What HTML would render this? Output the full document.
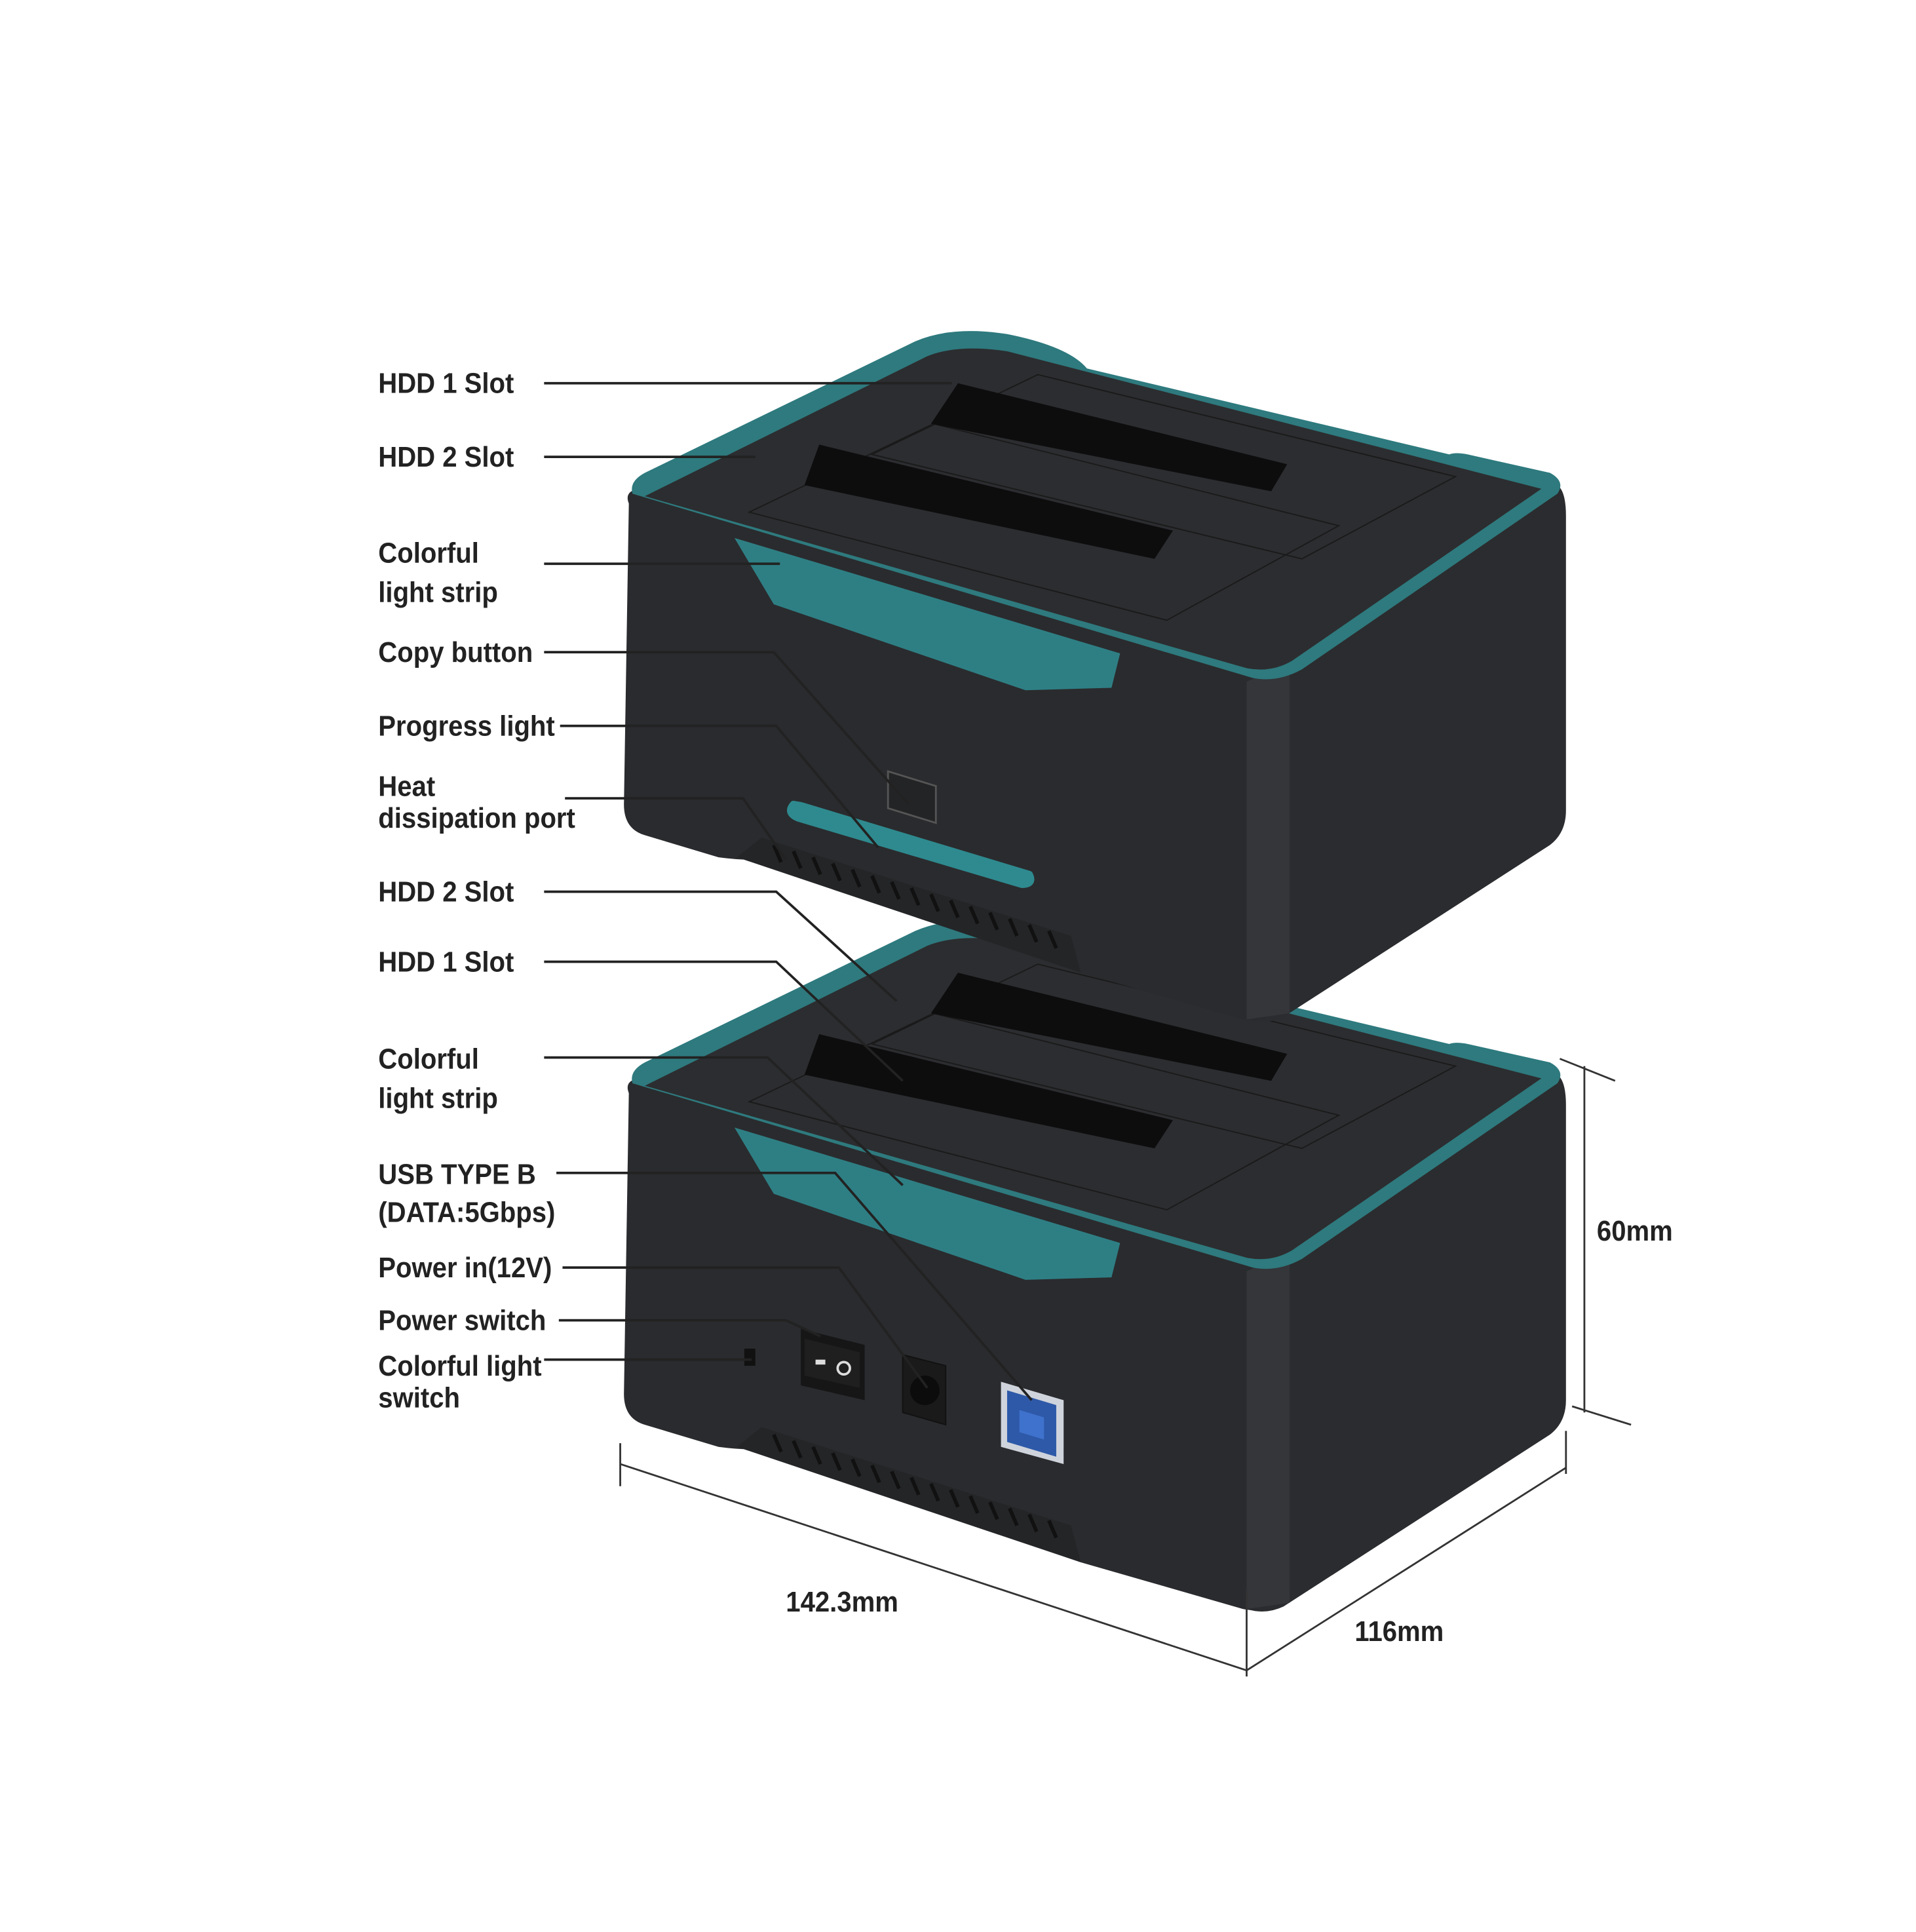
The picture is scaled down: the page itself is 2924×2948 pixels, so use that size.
<!DOCTYPE html>
<html><head><meta charset="utf-8"><style>
html,body{margin:0;padding:0;background:#fff;}
svg{display:block;}
text{font-family:"Liberation Sans",sans-serif;font-weight:bold;font-size:23px;fill:#222;}
</style></head><body>
<svg width="2924" height="2948" viewBox="0 0 1560 1573" preserveAspectRatio="none" xmlns="http://www.w3.org/2000/svg">
<defs>
<g id="dev">
  <path d="M1030,540 L1268,395 Q1275,400 1275,420 L1275,660 Q1275,678 1262,688 L1045,828 Q1030,835 1015,830 Z" fill="#2b2c2f"/>
  <path d="M512,410 Q508,400 520,398 L1040,548 L1040,820 Q1030,834 1012,830 L880,792 L612,700 Q600,700 585,698 L525,680 Q508,675 508,655 Z" fill="#2a2b2e"/>
  <path d="M1015,555 L1050,540 L1050,825 L1015,830 Z" fill="#34363a"/>
  <path d="M600,698 L620,682 L872,762 L880,792 Z" fill="#242527"/>
  <g stroke="#111" stroke-width="3">
    <path d="M630,688 l6,14 M646,693 l6,14 M662,698 l6,14 M678,703 l6,14 M694,708 l6,14 M710,713 l6,14 M726,718 l6,14 M742,723 l6,14 M758,728 l6,14 M774,733 l6,14 M790,738 l6,14 M806,743 l6,14 M822,748 l6,14 M838,753 l6,14 M854,758 l6,14"/>
  </g>
  <path d="M515,402 Q512,392 525,385 L745,278 Q775,265 820,272 Q870,282 885,300 L1180,370 Q1185,368 1195,370 L1262,385 Q1275,392 1268,402 L1060,545 Q1040,556 1020,552 Z" fill="#2e7a7e"/>
  <path d="M525,404 L755,290 Q780,280 820,286 L1255,398 L1052,538 Q1035,548 1015,544 Z" fill="#2c2d30"/>
  <path d="M610,417 L760,345 L1090,428 L950,505 Z" fill="none" stroke="#1a1a1a" stroke-width="1"/>
  <path d="M710,370 L845,305 L1185,388 L1060,455 Z" fill="none" stroke="#1a1a1a" stroke-width="1"/>
  <path d="M655,395 L667,362 L955,432 L940,455 Z" fill="#0d0d0e"/>
  <path d="M758,345 L780,312 L1048,378 L1035,400 Z" fill="#0d0d0e"/>
  <path d="M598,438 L912,532 L905,560 L835,562 L630,492 Z" fill="#2e7f84"/>
</g>
</defs>
<rect width="1560" height="1573" fill="#fff"/>

<g transform="translate(0,480)">
  <use href="#dev"/>
</g>
<g>
  <rect x="606" y="1098" width="9" height="14" fill="#111"/>
  <path d="M652,1082 L704,1095 L704,1140 L652,1128 Z" fill="#161617"/>
  <path d="M655,1090 L700,1101 L700,1130 L655,1120 Z" fill="#1f1f20"/>
  <rect x="664" y="1107" width="8" height="4" fill="#ddd"/>
  <circle cx="687" cy="1114" r="5" fill="none" stroke="#ddd" stroke-width="2"/>
  <path d="M735,1103 L770,1112 L770,1160 L735,1150 Z" fill="#1a1a1b" stroke="#111"/>
  <circle cx="753" cy="1132" r="12" fill="#0c0c0c"/>
  <path d="M815,1125 L866,1140 L866,1192 L815,1178 Z" fill="#cfd4dc"/>
  <path d="M820,1132 L860,1144 L860,1186 L820,1174 Z" fill="#2e59a8"/>
  <path d="M830,1148 L850,1154 L850,1172 L830,1166 Z" fill="#3f72cc"/>
</g>
<use href="#dev"/>
<path d="M723,628 L762,640 L762,670 L723,658 Z" fill="#232426" stroke="#555" stroke-width="1.5"/>
<path d="M646,655 Q640,662 650,666 L832,720 Q842,720 838,712 L652,656 Z" fill="#2e8a8f" stroke="#2e8a8f" stroke-width="6" stroke-linejoin="round"/>

<g stroke="#222" stroke-width="2" fill="none">
  <path d="M443,312 H775"/>
  <path d="M443,372 H615"/>
  <path d="M443,459 H635"/>
  <path d="M443,531 H630 L740,655"/>
  <path d="M456,591 H632 L715,690"/>
  <path d="M460,650 H605 L640,700"/>
  <path d="M443,726 H632 L730,815"/>
  <path d="M443,783 H632 L735,880"/>
  <path d="M443,861 H625 L735,965"/>
  <path d="M453,955 H680 L840,1140"/>
  <path d="M458,1032 H683 L755,1130"/>
  <path d="M455,1075 H640 L668,1088"/>
  <path d="M443,1107 H612"/>
</g>
<g stroke="#333" stroke-width="1.5" fill="none">
  <path d="M1290,868 V1150"/>
  <path d="M1270,862 L1315,880"/>
  <path d="M1280,1145 L1328,1160"/>
  <path d="M505,1175 V1210"/>
  <path d="M505,1192 L1015,1360"/>
  <path d="M1015,1295 V1365"/>
  <path d="M1015,1360 L1275,1195"/>
  <path d="M1275,1165 V1200"/>
</g>

<g transform="translate(308,0) scale(0.93,1)">
<text x="0" y="320">HDD 1 Slot</text>
<text x="0" y="380">HDD 2 Slot</text>
<text x="0" y="458">Colorful</text>
<text x="0" y="490">light strip</text>
<text x="0" y="539">Copy button</text>
<text x="0" y="599">Progress light</text>
<text x="0" y="648">Heat</text>
<text x="0" y="674">dissipation port</text>
<text x="0" y="734">HDD 2 Slot</text>
<text x="0" y="791">HDD 1 Slot</text>
<text x="0" y="870">Colorful</text>
<text x="0" y="902">light strip</text>
<text x="0" y="964">USB TYPE B</text>
<text x="0" y="995">(DATA:5Gbps)</text>
<text x="0" y="1040">Power in(12V)</text>
<text x="0" y="1083">Power switch</text>
<text x="0" y="1120">Colorful light</text>
<text x="0" y="1146">switch</text>
</g>
<g transform="scale(0.93,1)">
<text x="1398" y="1010">60mm</text>
<text x="688" y="1312">142.3mm</text>
<text x="1186" y="1336">116mm</text>
</g>
</svg>
</body></html>
